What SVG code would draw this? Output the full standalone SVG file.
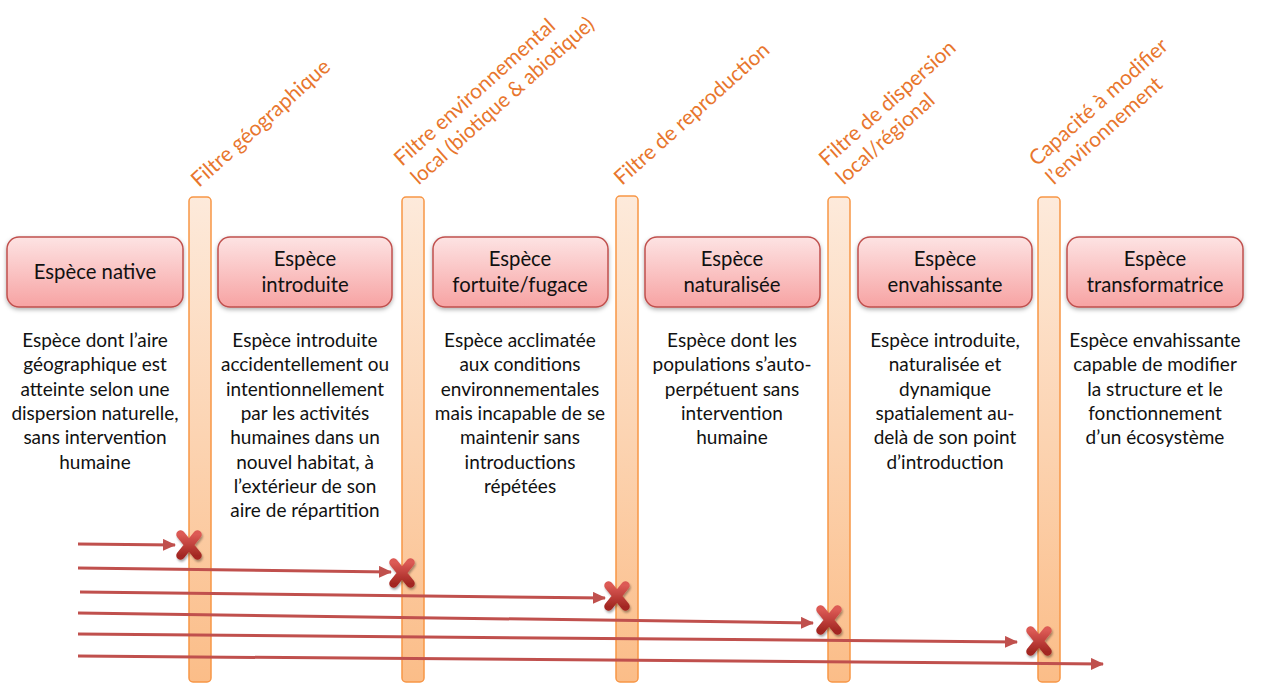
<svg xmlns="http://www.w3.org/2000/svg" xmlns:xlink="http://www.w3.org/1999/xlink" width="1268" height="683" viewBox="0 0 1268 683">
<defs>
<style>
.box{fill:url(#gBox);stroke:#c0504d;stroke-width:1.5;filter:url(#sh)}
.bar{fill:url(#gBar);stroke:#f79646;stroke-width:1.5}
.bt{font-family:Lato,"Liberation Sans",sans-serif;font-size:20.3px;fill:#111;text-anchor:middle}
.dt{font-family:Lato,"Liberation Sans",sans-serif;font-size:19px;fill:#111;text-anchor:middle}
.lb{font-family:Lato,"Liberation Sans",sans-serif;font-size:21px;fill:#e8762d}
.ar{stroke:#c0504d;stroke-width:3;fill:none;marker-end:url(#ah)}
</style>
<linearGradient id="gBox" x1="0" y1="0" x2="0" y2="1">
<stop offset="0" stop-color="#fde3e3"/>
<stop offset="1" stop-color="#f7a3a3"/>
</linearGradient>
<linearGradient id="gBar" x1="0" y1="0" x2="0" y2="1">
<stop offset="0" stop-color="#fdeadb"/>
<stop offset="1" stop-color="#fbbd88"/>
</linearGradient>
<linearGradient id="gX" x1="0" y1="0" x2="0" y2="1">
<stop offset="0" stop-color="#dc5a55"/>
<stop offset="1" stop-color="#a32823"/>
</linearGradient>
<filter id="sh" x="-10%" y="-10%" width="120%" height="130%">
<feDropShadow dx="0" dy="2" stdDeviation="2" flood-color="#000" flood-opacity="0.3"/>
</filter>
<filter id="shx" x="-50%" y="-50%" width="200%" height="200%">
<feDropShadow dx="1" dy="2" stdDeviation="1.2" flood-color="#000" flood-opacity="0.35"/>
</filter>
<marker id="ah" markerUnits="userSpaceOnUse" markerWidth="13" markerHeight="12" refX="12" refY="6" orient="auto">
<path d="M0,0 L13,6 L0,12 z" fill="#c0504d"/>
</marker>
<g id="xm" filter="url(#shx)">
<path d="M-8.5,-10.5 L8.5,10.5 M8.5,-10.5 L-8.5,10.5" stroke="url(#gX)" stroke-width="8.5" stroke-linecap="round" fill="none"/>
</g>
</defs>
<rect width="1268" height="683" fill="#fff"/>

<g id="filters">
<g id="filtre1">
<rect class="bar" x="189" y="197" width="22" height="485" rx="4"/>
<text class="lb" transform="translate(199,188) rotate(-42)">Filtre géographique</text>
</g>
<g id="filtre2">
<rect class="bar" x="402" y="197" width="22" height="485" rx="4"/>
<g transform="translate(402,167) rotate(-42)">
<text class="lb" x="0" y="0">Filtre environnemental</text>
<text class="lb" x="0" y="25" textLength="238" lengthAdjust="spacingAndGlyphs">local (biotique &amp; abiotique)</text>
</g>
</g>
<g id="filtre3">
<rect class="bar" x="616" y="196" width="22" height="486" rx="4"/>
<text class="lb" transform="translate(622,186) rotate(-42)">Filtre de reproduction</text>
</g>
<g id="filtre4">
<rect class="bar" x="828" y="197" width="22" height="485" rx="4"/>
<text class="lb" transform="translate(827,167) rotate(-42)"><tspan x="0" y="0">Filtre de dispersion</tspan><tspan x="0" y="25">local/régional</tspan></text>
</g>
<g id="filtre5">
<rect class="bar" x="1038" y="197" width="22" height="485" rx="4"/>
<text class="lb" transform="translate(1037,167) rotate(-42)"><tspan x="0" y="0">Capacité à modifier</tspan><tspan x="0" y="25">l’environnement</tspan></text>
</g>
</g>

<g id="native">
<rect class="box" x="7" y="237" width="176" height="70" rx="12"/>
<text class="bt" x="95" y="279">Espèce native</text>
<text class="dt" x="95" y="347"><tspan x="95">Espèce dont l’aire</tspan><tspan x="95" dy="24.3">géographique est</tspan><tspan x="95" dy="24.3">atteinte selon une</tspan><tspan x="95" dy="24.3">dispersion naturelle,</tspan><tspan x="95" dy="24.3">sans intervention</tspan><tspan x="95" dy="24.3">humaine</tspan></text>
</g>
<g id="introduite">
<rect class="box" x="218" y="237" width="174" height="70" rx="12"/>
<text class="bt" x="305"><tspan x="305" y="266">Espèce</tspan><tspan x="305" y="292">introduite</tspan></text>
<text class="dt" x="305" y="347"><tspan x="305">Espèce introduite</tspan><tspan x="305" dy="24.3">accidentellement ou</tspan><tspan x="305" dy="24.3">intentionnellement</tspan><tspan x="305" dy="24.3">par les activités</tspan><tspan x="305" dy="24.3">humaines dans un</tspan><tspan x="305" dy="24.3">nouvel habitat, à</tspan><tspan x="305" dy="24.3">l’extérieur de son</tspan><tspan x="305" dy="24.3">aire de répartition</tspan></text>
</g>
<g id="fortuite">
<rect class="box" x="433" y="237" width="175" height="70" rx="12"/>
<text class="bt"><tspan x="520" y="266">Espèce</tspan><tspan x="520" y="292">fortuite/fugace</tspan></text>
<text class="dt" x="520" y="347"><tspan x="520">Espèce acclimatée</tspan><tspan x="520" dy="24.3">aux conditions</tspan><tspan x="520" dy="24.3">environnementales</tspan><tspan x="520" dy="24.3">mais incapable de se</tspan><tspan x="520" dy="24.3">maintenir sans</tspan><tspan x="520" dy="24.3">introductions</tspan><tspan x="520" dy="24.3">répétées</tspan></text>
</g>
<g id="naturalisee">
<rect class="box" x="645" y="237" width="175" height="70" rx="12"/>
<text class="bt"><tspan x="732" y="266">Espèce</tspan><tspan x="732" y="292">naturalisée</tspan></text>
<text class="dt" x="732" y="347"><tspan x="732">Espèce dont les</tspan><tspan x="732" dy="24.3">populations s’auto-</tspan><tspan x="732" dy="24.3">perpétuent sans</tspan><tspan x="732" dy="24.3">intervention</tspan><tspan x="732" dy="24.3">humaine</tspan></text>
</g>
<g id="envahissante">
<rect class="box" x="858" y="237" width="174" height="70" rx="12"/>
<text class="bt"><tspan x="945" y="266">Espèce</tspan><tspan x="945" y="292">envahissante</tspan></text>
<text class="dt" x="945" y="347"><tspan x="945">Espèce introduite,</tspan><tspan x="945" dy="24.3">naturalisée et</tspan><tspan x="945" dy="24.3">dynamique</tspan><tspan x="945" dy="24.3">spatialement au-</tspan><tspan x="945" dy="24.3">delà de son point</tspan><tspan x="945" dy="24.3">d’introduction</tspan></text>
</g>
<g id="transformatrice">
<rect class="box" x="1067" y="237" width="176" height="70" rx="12"/>
<text class="bt"><tspan x="1155" y="266">Espèce</tspan><tspan x="1155" y="292">transformatrice</tspan></text>
<text class="dt" x="1155" y="347"><tspan x="1155">Espèce envahissante</tspan><tspan x="1155" dy="24.3">capable de modifier</tspan><tspan x="1155" dy="24.3">la structure et le</tspan><tspan x="1155" dy="24.3">fonctionnement</tspan><tspan x="1155" dy="24.3">d’un écosystème</tspan></text>
</g>

<g id="connectors">
<line class="ar" x1="78" y1="544" x2="175" y2="545"/>
<line class="ar" x1="78" y1="568" x2="391" y2="572"/>
<line class="ar" x1="80" y1="592" x2="605" y2="598"/>
<line class="ar" x1="78" y1="613" x2="813" y2="623"/>
<line class="ar" x1="78" y1="634" x2="1017" y2="642"/>
<line class="ar" x1="78" y1="656" x2="1103" y2="664"/>
<use xlink:href="#xm" x="189" y="545"/>
<use xlink:href="#xm" x="402" y="573"/>
<use xlink:href="#xm" x="617" y="596"/>
<use xlink:href="#xm" x="829" y="620"/>
<use xlink:href="#xm" x="1039" y="641"/>
</g>
</svg>
